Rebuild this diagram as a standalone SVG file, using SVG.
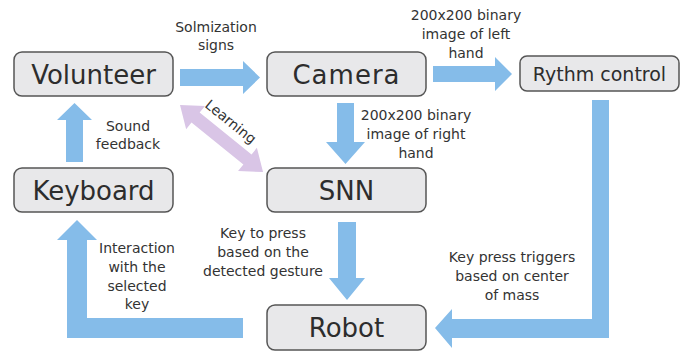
<svg xmlns="http://www.w3.org/2000/svg" width="696" height="353" viewBox="0 0 696 353">
<style>
.box{fill:#e8e8ea;stroke:#555;stroke-width:1.5}
.big{font-family:"DejaVu Sans",sans-serif;font-size:26px;fill:#2d2d2d;text-anchor:middle}
.mid{font-family:"DejaVu Sans",sans-serif;font-size:19px;fill:#2d2d2d;text-anchor:middle}
.lbl{font-family:"DejaVu Sans",sans-serif;font-size:14px;fill:#333;text-anchor:middle}
.arr{fill:#85bce9}
.purp{fill:#d9c5e6}
</style>
<rect width="696" height="353" fill="#fff"/>
<g id="connectors">
<polygon class="arr" points="180,69 243,69 243,61 260,77.5 243,94 243,86 180,86"/>
<polygon class="arr" points="433,66 495,66 495,57 512,74 495,91 495,82 433,82"/>
<polygon class="arr" points="337,103 354,103 354,142 365,142 345.5,164 326,142 337,142"/>
<polygon class="arr" points="338,222 356,222 356,278 365,278 347,300 329,278 338,278"/>
<polygon class="arr" points="66,162 83,162 83,120 92,120 74.5,103 57,120 66,120"/>
<polygon class="arr" points="243,318 243,338 67,338 67,240 57,240 77,220 97,240 87,240 87,318"/>
<polygon class="arr" points="592,100 609,100 609,338 452,338 452,348 435,328 452,309 452,319 592,319"/>
<g transform="translate(180,105) rotate(38.9)">
<polygon class="purp" points="0,0 20,-15 20,-6.5 86.7,-6.5 86.7,-15 106.7,0 86.7,15 86.7,6.5 20,6.5 20,15"/>
<text class="lbl" x="50" y="-14">Learning</text>
</g>
<text class="lbl"><tspan x="216" y="32">Solmization</tspan><tspan x="216" y="50">signs</tspan></text>
<text class="lbl"><tspan x="466" y="20">200x200 binary</tspan><tspan x="466" y="39">image of left</tspan><tspan x="466" y="58">hand</tspan></text>
<text class="lbl"><tspan x="416" y="120">200x200 binary</tspan><tspan x="416" y="139">image of right</tspan><tspan x="416" y="158">hand</tspan></text>
<text class="lbl"><tspan x="128" y="131">Sound</tspan><tspan x="128" y="149">feedback</tspan></text>
<text class="lbl"><tspan x="263" y="238">Key to press</tspan><tspan x="263" y="257">based on the</tspan><tspan x="263" y="276">detected gesture</tspan></text>
<text class="lbl"><tspan x="137" y="253">Interaction</tspan><tspan x="137" y="272">with the</tspan><tspan x="137" y="291">selected</tspan><tspan x="137" y="309">key</tspan></text>
<text class="lbl"><tspan x="512" y="262">Key press triggers</tspan><tspan x="512" y="281">based on center</tspan><tspan x="512" y="300">of mass</tspan></text>
</g>
<g id="volunteer"><rect class="box" x="14" y="52" width="159" height="44" rx="8"/><text class="big" x="93.5" y="84">Volunteer</text></g>
<g id="camera"><rect class="box" x="267" y="52" width="159" height="44" rx="8"/><text class="big" x="346.5" y="84" letter-spacing="1">Camera</text></g>
<g id="rythm"><rect class="box" x="520" y="56" width="159" height="35" rx="7"/><text class="mid" x="599.5" y="81">Rythm control</text></g>
<g id="keyboard"><rect class="box" x="14" y="168" width="159" height="44" rx="8"/><text class="big" x="93.5" y="200">Keyboard</text></g>
<g id="snn"><rect class="box" x="267" y="168" width="159" height="44" rx="8"/><text class="big" x="346.5" y="200">SNN</text></g>
<g id="robot"><rect class="box" x="267" y="305" width="159" height="45" rx="8"/><text class="big" x="346.5" y="337">Robot</text></g>
</svg>
